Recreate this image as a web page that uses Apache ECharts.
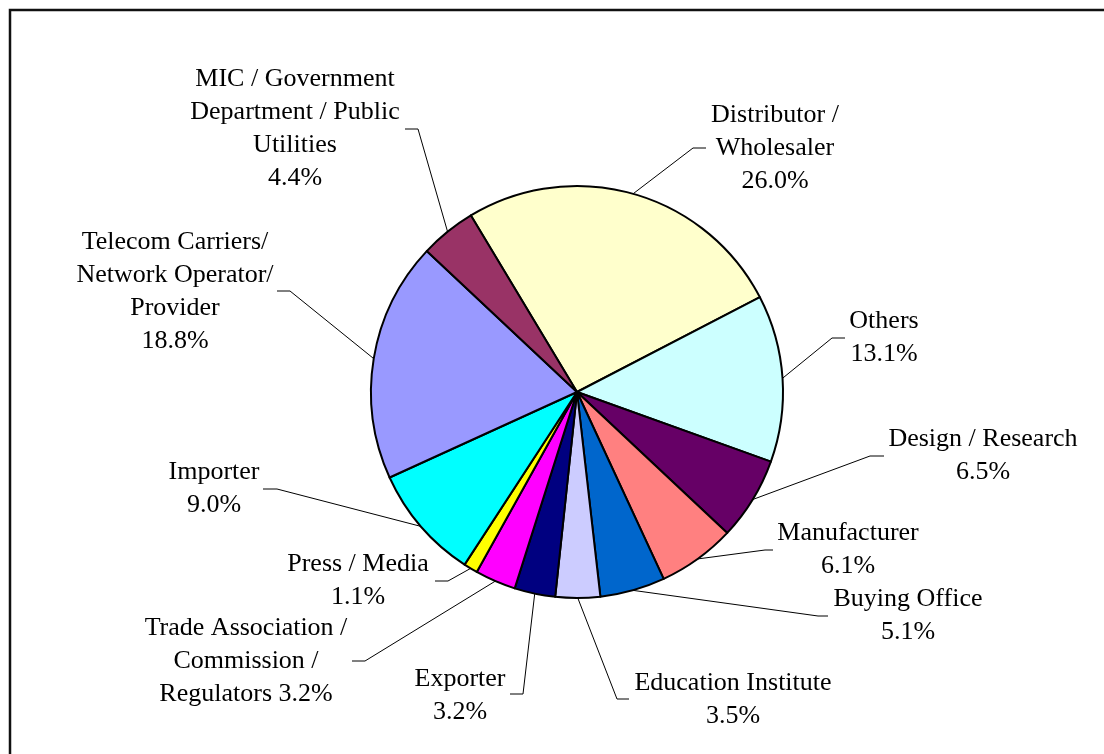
<!DOCTYPE html>
<html>
<head>
<meta charset="utf-8">
<script src="https://cdn.jsdelivr.net/npm/echarts@6/dist/echarts.min.js"></script>
<style>
  html, body { margin: 0; padding: 0; background: #ffffff; }
  #chart { width: 1104px; height: 754px; }
</style>
</head>
<body>
<div id="chart"></div>
<script>
// slice names (with the line breaks used in the picture), clockwise from the top
var categories = [
    'Distributor /\nWholesaler',
    'Others',
    'Design / Research',
    'Manufacturer',
    'Buying Office',
    'Education Institute',
    'Exporter',
    'Trade Association /\nCommission /\nRegulators',
    'Press / Media',
    'Importer',
    'Telecom Carriers/\nNetwork Operator/\nProvider',
    'MIC / Government\nDepartment / Public\nUtilities'
];
var values = [26.0, 13.1, 6.5, 6.1, 5.1, 3.5, 3.2, 3.2, 1.1, 9.0, 18.8, 4.4];
var colors = [
    '#FFFFCC', '#CCFFFF', '#660066', '#FF8080', '#0066CC', '#CCCCFF',
    '#000080', '#FF00FF', '#FFFF00', '#00FFFF', '#9999FF', '#993366'
];
// percent goes on the same line for these
var inlinePct = [7];

// label block centre and elbow / end of the leader line
var labelPos = [
    {x: 775, y: 148, elbow: [693, 148], end: [706, 148]},
    {x: 884, y: 338, elbow: [832, 338], end: [845, 338]},
    {x: 983, y: 456, elbow: [870, 456], end: [884, 456]},
    {x: 848, y: 550, elbow: [765, 550], end: [773, 550]},
    {x: 908, y: 616, elbow: [818, 616], end: [828, 616]},
    {x: 733, y: 700, elbow: [617, 699], end: [629, 699]},
    {x: 460, y: 696, elbow: [523, 694], end: [510, 694]},
    {x: 246, y: 661, elbow: [365, 661], end: [352, 661]},
    {x: 358, y: 581, elbow: [448, 581], end: [435, 581]},
    {x: 214, y: 489, elbow: [277, 489], end: [263, 489]},
    {x: 175, y: 292, elbow: [290, 291], end: [277, 291]},
    {x: 295, y: 129, elbow: [418, 129], end: [405, 129]}
];

var myChart = echarts.init(document.getElementById('chart'));

var seriesData = [];
for (var i = 0; i < categories.length; i++) {
    seriesData.push({
        name: categories[i],
        value: values[i],
        itemStyle: { color: colors[i] }
    });
}

var option = {
    backgroundColor: '#FFFFFF',
    animation: false,
    graphic: [{
        type: 'rect',
        shape: { x: 10, y: 10, width: 1200, height: 900 },
        style: { fill: 'none', stroke: '#111', lineWidth: 2.5 },
        silent: true
    }],
    series: [{
        type: 'pie',
        center: [577, 392],
        radius: [0, 206],
        startAngle: 121,
        clockwise: true,
        avoidLabelOverlap: false,
        itemStyle: { borderColor: '#000', borderWidth: 2 },
        emphasis: { disabled: true },
        label: {
            show: true,
            position: 'outside',
            fontFamily: 'Liberation Serif',
            fontSize: 26,
            lineHeight: 33,
            color: '#000',
            align: 'center',
            formatter: function (p) {
                var pct = p.value.toFixed(1) + '%';
                var sep = inlinePct.indexOf(p.dataIndex) >= 0 ? ' ' : '\n';
                return p.name + sep + pct;
            }
        },
        labelLine: {
            show: true,
            lineStyle: { color: '#000', width: 1 }
        },
        labelLayout: function (params) {
            var lp = labelPos[params.dataIndex];
            var start = params.labelLinePoints ? params.labelLinePoints[0] : lp.elbow;
            return {
                x: lp.x,
                y: lp.y,
                align: 'center',
                verticalAlign: 'middle',
                labelLinePoints: [start, lp.elbow, lp.end]
            };
        },
        data: seriesData
    }]
};

myChart.setOption(option);
</script>
</body>
</html>
